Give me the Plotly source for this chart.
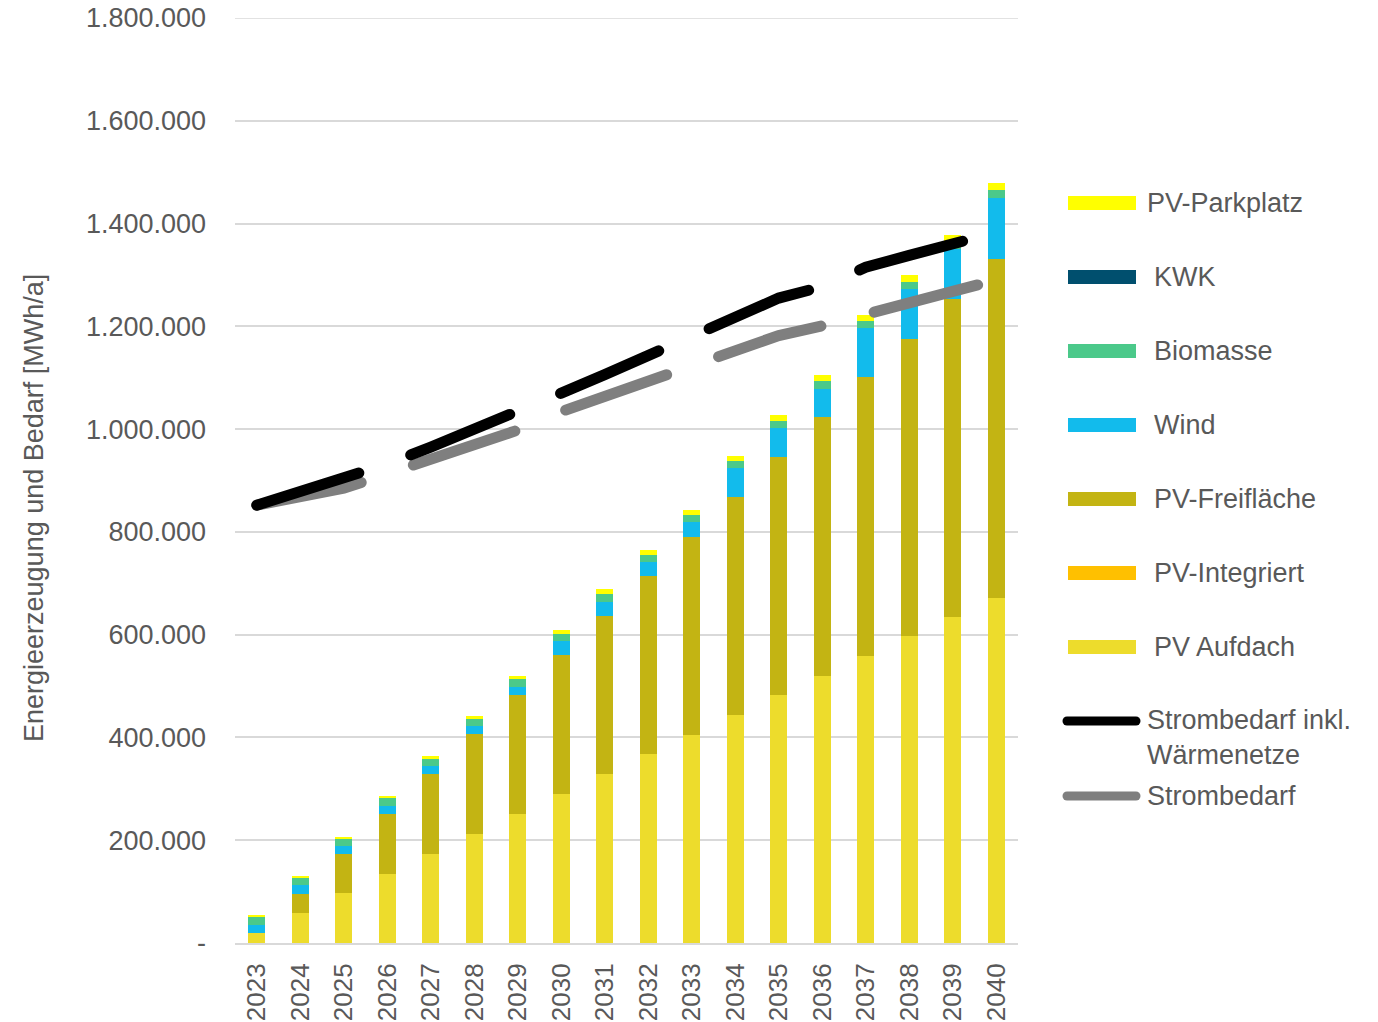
import plotly.graph_objects as go

years = [str(y) for y in range(2023, 2041)]

# Energy generation (MWh/a), stacked bottom -> top
pv_aufdach = [20000, 58000, 97000, 135000, 174000, 213000, 251000, 290000, 328000,
              367000, 405000, 444000, 482000, 520000, 558000, 597000, 635000, 672000]
pv_integriert = [0] * 18
pv_freiflaeche = [0, 38000, 77000, 116000, 154000, 193000, 232000, 270000, 309000,
                  347000, 386000, 424000, 464000, 503000, 543000, 579000, 619000, 659000]
wind = [16000, 16000, 15000, 16000, 16000, 16000, 16000, 28000, 27000,
        28000, 28000, 56000, 56000, 56000, 95000, 96000, 96000, 119000]
biomasse = [15000, 15000, 15000, 15000, 14000, 14000, 14000, 14000, 15000,
            14000, 14000, 13000, 14000, 14000, 15000, 14000, 14000, 15000]
kwk = [0] * 18
pv_parkplatz = [2000, 2500, 3000, 4000, 5000, 6000, 7000, 8000, 9000,
                9000, 9500, 10000, 10500, 11500, 11500, 13000, 13000, 14000]

# Demand lines (MWh/a)
strombedarf_inkl = [852000, 878000, 901000, 932000, 965000, 999000, 1032000, 1070000, 1106000,
                    1142000, 1180000, 1217000, 1255000, 1277000, 1315000, 1338000, 1361000, 1383000]
strombedarf = [852000, 870000, 885000, 913000, 942000, 970000, 998000, 1034000, 1063000,
               1092000, 1121000, 1152000, 1182000, 1201000, 1225000, 1247000, 1268000, 1290000]

y_tickvals = [0, 200000, 400000, 600000, 800000, 1000000, 1200000, 1400000, 1600000, 1800000]
y_ticktext = ["-", "200.000", "400.000", "600.000", "800.000", "1.000.000",
              "1.200.000", "1.400.000", "1.600.000", "1.800.000"]

bar_series = [
    ("PV Aufdach", pv_aufdach, "#EDDC2C"),
    ("PV-Integriert", pv_integriert, "#FFC000"),
    ("PV-Freifläche", pv_freiflaeche, "#C3B413"),
    ("Wind", wind, "#12BBEC"),
    ("Biomasse", biomasse, "#4BC98A"),
    ("KWK", kwk, "#004F6E"),
    ("PV-Parkplatz", pv_parkplatz, "#FFFF00"),
]
line_series = [
    ("Strombedarf", strombedarf, "#7F7F7F"),
    ("Strombedarf inkl.<br>Wärmenetze", strombedarf_inkl, "#000000"),
]

FONT = "Liberation Sans, Arial, sans-serif"
TXT = "#595959"

fig = go.Figure()
for name, vals, col in bar_series:
    fig.add_trace(go.Bar(x=years, y=vals, name=name, marker=dict(color=col, line=dict(width=0)),
                         showlegend=False))
for name, vals, col in line_series:
    fig.add_trace(go.Scatter(x=years, y=vals, name=name, mode="lines",
                             line=dict(color=col, width=11, dash="107px,55px"),
                             showlegend=False))

# plot geometry in pixels
W_FIG, H_FIG = 1378, 1022
L, R, T, B = 235, 360, 18, 79
PW = W_FIG - L - R
PH = H_FIG - T - B


def px(x):
    return (x - L) / PW


def py(y):
    return (H_FIG - B - y) / PH


shapes = []
annotations = []

# top gridline (edge of range)
shapes.append(dict(type="line", xref="paper", yref="y", x0=0, x1=1,
                   y0=y_tickvals[-1], y1=y_tickvals[-1],
                   line=dict(color="#D9D9D9", width=1.5), layer="below"))

# manual legend: bar entries top->bottom in reverse stacking order
for k, (name, vals, col) in enumerate(reversed(bar_series)):
    yc = 203 + 74 * k
    shapes.append(dict(type="rect", xref="paper", yref="paper",
                       x0=px(1068), x1=px(1136), y0=py(yc + 7), y1=py(yc - 7),
                       fillcolor=col, line=dict(width=0)))
    xt = 1145 if k == 0 else 1152
    annotations.append(dict(xref="paper", yref="paper", x=px(xt), y=py(yc), text=name,
                            showarrow=False, xanchor="left", yanchor="middle",
                            font=dict(family=FONT, size=27, color=TXT)))

line_leg = [("Strombedarf inkl.<br>Wärmenetze", "#000000", 721, 737),
            ("Strombedarf", "#7F7F7F", 796, 796)]
for name, col, yl, yt in line_leg:
    shapes.append(dict(type="line", xref="paper", yref="paper",
                       x0=px(1067), x1=px(1136), y0=py(yl), y1=py(yl),
                       line=dict(color=col, width=9)))
    annotations.append(dict(xref="paper", yref="paper", x=px(1145), y=py(yt), text=name,
                            showarrow=False, xanchor="left", yanchor="middle", align="left",
                            font=dict(family=FONT, size=27, color=TXT)))

annotations.append(dict(xref="paper", yref="paper", x=px(34), y=py(508),
                        text="Energieerzeugung und Bedarf [MWh/a]", textangle=-90,
                        showarrow=False, xanchor="center", yanchor="middle",
                        font=dict(family=FONT, size=27, color=TXT)))

fig.update_layout(
    width=W_FIG, height=H_FIG,
    margin=dict(l=L, r=R, t=T, b=B, pad=0, autoexpand=False),
    barmode="stack", bargap=0.6,
    plot_bgcolor="white", paper_bgcolor="white",
    font=dict(family=FONT, size=27, color=TXT),
    shapes=shapes, annotations=annotations,
    showlegend=False,
)
fig.update_xaxes(type="category", tickangle=-90, showgrid=False, automargin=False,
                 showline=True, linecolor="#D9D9D9", linewidth=2,
                 ticks="", ticklabelstandoff=8,
                 tickfont=dict(family=FONT, size=26, color=TXT))
fig.update_yaxes(range=[0, 1800000], tickvals=y_tickvals, ticktext=y_ticktext, automargin=False,
                 showgrid=True, gridcolor="#D9D9D9", gridwidth=1.5,
                 zeroline=False, showline=False, ticks="", ticklabelstandoff=28,
                 tickfont=dict(family=FONT, size=27, color=TXT))

round_caps = (
    "var gd=document.getElementById('{plot_id}');"
    "function rc(){"
    "gd.querySelectorAll('.scatterlayer .js-line').forEach(function(p){p.style.strokeLinecap='round';});"
    "gd.querySelectorAll('.shapelayer path').forEach(function(p){"
    "if(parseFloat(p.style.strokeWidth)===9){p.style.strokeLinecap='round';}});}"
    "rc();gd.on('plotly_afterplot',rc);"
)

fig.write_html("out.html", post_script=round_caps)
